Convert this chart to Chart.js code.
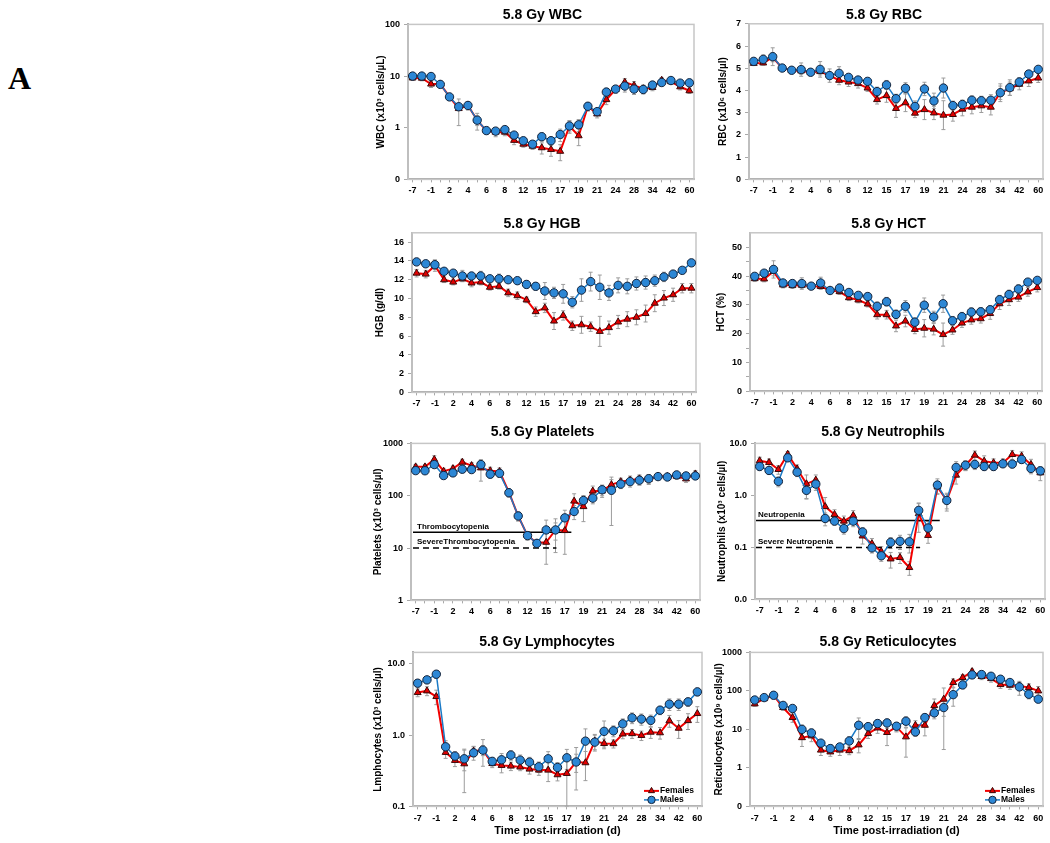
<!DOCTYPE html>
<html>
<head>
<meta charset="utf-8">
<script src="https://cdn.jsdelivr.net/npm/chart.js@4.4.0/dist/chart.umd.min.js"></script>
<style>
  body { margin: 0; background: #fff; width: 1050px; height: 843px; position: relative; overflow: hidden; }
  .panel { position: absolute; }
  #lab { position: absolute; left: 8px; top: 62px; font: bold 32px 'Liberation Serif', 'Times New Roman', serif; line-height: 32px; }
</style>
</head>
<body>
<div id="lab">A</div>
<div class="panel" id="p0"><canvas></canvas></div>
<div class="panel" id="p1"><canvas></canvas></div>
<div class="panel" id="p2"><canvas></canvas></div>
<div class="panel" id="p3"><canvas></canvas></div>
<div class="panel" id="p4"><canvas></canvas></div>
<div class="panel" id="p5"><canvas></canvas></div>
<div class="panel" id="p6"><canvas></canvas></div>
<div class="panel" id="p7"><canvas></canvas></div>
<script>
// days post-irradiation (every other one is labelled on the axis)
const days = ['-7','-4','-1','1','2','3','4','5','6','7','8','10','12','13','15','16','17','18','19','20','21','22','24','26','28','31','34','38','42','50','60'];

// WBC (x10^3 cells/uL)
const wbcMale   = [10, 10, 9.8, 6.9, 3.95, 2.55, 2.7, 1.4, 0.88, 0.86, 0.92, 0.72, 0.56, 0.48, 0.67, 0.56, 0.74, 1.08, 1.14, 2.6, 2.05, 4.9, 5.6, 6.4, 5.6, 5.5, 6.7, 7.5, 8.2, 7.3, 7.4];
const wbcFemale = [9.2, 9.1, 7.0, 7.0, 3.95, 2.35, 2.7, 1.4, 0.87, 0.82, 0.82, 0.57, 0.48, 0.44, 0.41, 0.38, 0.35, 1.08, 0.70, 2.6, 1.85, 3.5, 5.5, 7.6, 6.6, 5.7, 6.0, 8.3, 7.8, 6.2, 5.2];
const wbcMaleErr   = [1.2, 1, 1, 0.8, 0.4, 0.4, 0.3, 0.3, 0.1, 0.1, 0.1, 0.1, 0.08, 0.06, 0.12, 0.1, 0.2, 0.25, 0.3, 0.5, 0.3, 0.9, 0.8, 1.5, 1.2, 1, 0.8, 1, 0.8, 0.8, 0.6];
const wbcFemaleErr = [1, 1, 1, 0.8, 0.4, 1.25, 0.5, 0.5, 0.12, 0.15, 0.12, 0.1, 0.06, 0.06, 0.1, 0.1, 0.12, 0.3, 0.25, 0.4, 0.3, 0.7, 0.8, 1.3, 1.2, 1, 0.8, 1, 0.8, 0.8, 0.6];
const wbcTicks = [0.1, 1, 10, 100];
const wbcTickText = ['0', '1', '10', '100'];

// RBC (x10^6 cells/ul)
const rbcMale   = [5.31, 5.40, 5.52, 5.01, 4.91, 4.94, 4.82, 4.95, 4.67, 4.77, 4.59, 4.47, 4.41, 3.95, 4.25, 3.63, 4.10, 3.28, 4.07, 3.53, 4.11, 3.32, 3.37, 3.56, 3.54, 3.56, 3.90, 4.13, 4.38, 4.74, 4.95];
const rbcFemale = [5.22, 5.24, 5.49, 5.01, 4.91, 4.88, 4.82, 4.85, 4.67, 4.46, 4.38, 4.31, 4.11, 3.59, 3.77, 3.19, 3.45, 2.98, 3.14, 2.99, 2.89, 2.92, 3.16, 3.25, 3.31, 3.25, 3.90, 4.08, 4.28, 4.43, 4.56];
const rbcMaleErr   = [0.15, 0.2, 0.4, 0.1, 0.1, 0.3, 0.1, 0.35, 0.3, 0.3, 0.15, 0.15, 0.15, 0.2, 0.2, 0.2, 0.25, 0.25, 0.3, 0.35, 0.45, 0.2, 0.2, 0.2, 0.2, 0.25, 0.4, 0.35, 0.2, 0.15, 0.15];
const rbcFemaleErr = [0.1, 0.1, 0.2, 0.1, 0.1, 0.15, 0.1, 0.15, 0.15, 0.2, 0.2, 0.2, 0.15, 0.2, 0.3, 0.4, 0.4, 0.2, 0.45, 0.3, 0.65, 0.3, 0.3, 0.3, 0.3, 0.35, 0.3, 0.3, 0.25, 0.25, 0.2];
const rbcTicks = [0, 1, 2, 3, 4, 5, 6, 7];
const rbcTickText = ['0', '1', '2', '3', '4', '5', '6', '7'];

// HGB (g/dl)
const hgbMale   = [13.9, 13.7, 13.6, 12.9, 12.7, 12.4, 12.4, 12.4, 12.1, 12.1, 12.0, 11.9, 11.5, 11.3, 10.8, 10.6, 10.5, 9.6, 10.9, 11.8, 11.2, 10.6, 11.4, 11.3, 11.6, 11.7, 11.9, 12.3, 12.6, 13.0, 13.8];
const hgbFemale = [12.7, 12.6, 13.5, 12.0, 11.75, 12.1, 11.65, 11.75, 11.2, 11.3, 10.6, 10.3, 9.85, 8.6, 9.0, 7.6, 8.2, 7.1, 7.2, 7.0, 6.5, 6.9, 7.5, 7.8, 8.0, 8.4, 9.5, 10.05, 10.4, 11.1, 11.1];
const hgbMaleErr   = [0.2, 0.2, 0.5, 0.3, 0.3, 0.6, 0.3, 0.5, 0.3, 0.5, 0.3, 0.3, 0.4, 0.4, 0.9, 0.6, 1.0, 0.6, 1.2, 1.0, 1.3, 0.8, 0.8, 0.8, 0.7, 0.7, 0.6, 0.5, 0.4, 0.3, 0.3];
const hgbFemaleErr = [0.4, 0.4, 0.6, 0.3, 0.3, 0.3, 0.4, 0.3, 0.3, 0.3, 0.4, 0.4, 0.3, 0.5, 0.5, 0.9, 0.5, 0.5, 0.9, 0.5, 1.6, 0.7, 0.7, 0.8, 0.8, 0.9, 0.9, 0.8, 0.7, 0.5, 0.5];
const hgbTicks = [0, 2, 4, 6, 8, 10, 12, 14, 16];
const hgbTickText = ['0', '2', '4', '6', '8', '10', '12', '14', '16'];

// HCT (%)
const hctMale   = [39.9, 41.0, 42.3, 37.6, 37.4, 37.4, 36.5, 37.6, 35.0, 35.8, 34.3, 33.3, 32.9, 29.5, 31.1, 26.7, 29.5, 24.0, 29.9, 25.8, 30.4, 24.5, 25.9, 27.5, 27.6, 28.3, 31.8, 33.6, 35.5, 37.9, 38.5];
const hctFemale = [39.1, 39.0, 41.6, 36.9, 36.7, 36.8, 36.5, 36.4, 35.0, 34.6, 32.5, 31.7, 30.3, 26.6, 26.6, 22.7, 24.4, 21.5, 21.9, 21.6, 19.7, 21.3, 23.7, 24.8, 25.2, 27.0, 30.4, 31.8, 32.7, 34.5, 36.0];
const hctMaleErr   = [1, 1, 3, 1, 1, 2, 1, 2, 1, 1.5, 1, 1, 1, 1.5, 1.5, 1.5, 2, 1.5, 2.5, 2, 3, 1.5, 1.5, 1.5, 1.5, 1.5, 1.5, 1.5, 1.5, 1, 1];
const hctFemaleErr = [1, 1, 1.5, 1, 1, 1, 1, 1, 1, 1, 1, 1, 1, 1.5, 1.5, 2, 2, 1.5, 3, 2, 4, 1.5, 1.5, 1.5, 1.5, 2, 2, 2, 1.5, 1.5, 1.5];
const hctTicks = [0, 5, 10, 15, 20, 25, 30, 35, 40, 45, 50];
const hctTickText = ['0', '', '10', '', '20', '', '30', '', '40', '', '50'];

// Platelets (x10^3 cells/ul)
const pltMale   = [302, 300, 394, 243, 273, 321, 316, 394, 258, 268, 114, 41, 17.3, 12.3, 22.2, 22.2, 37.8, 50, 81, 90, 130, 127, 167, 186, 198, 212, 232, 228, 250, 239, 239];
const pltFemale = [356, 356, 492, 294, 330, 437, 377, 340, 300, 290, 117, 41, 17.3, 12.5, 12.9, 22.2, 21.6, 79, 62, 123, 123, 163, 186, 198, 210, 204, 235, 235, 235, 210, 261];
const pltMaleErr   = [30, 30, 50, 30, 40, 40, 40, 70, 40, 40, 20, 8, 3, 2, 12, 8, 15, 15, 20, 20, 30, 100, 30, 40, 40, 40, 30, 30, 30, 30, 30];
const pltFemaleErr = [40, 40, 90, 40, 40, 60, 50, 150, 50, 50, 20, 8, 3, 2, 8, 14, 14, 30, 30, 30, 30, 40, 30, 40, 40, 40, 30, 30, 30, 30, 40];
const pltTicks = [1, 10, 100, 1000];
const pltTickText = ['1', '10', '100', '1000'];
const pltLimits = [
  { value: 20, end: 16.7, dashed: false, label: 'Thrombocytopenia' },
  { value: 10, end: 15.1, dashed: true, label: 'SevereThrombocytopenia' }
];

// Neutrophils (x10^3 cells/ul)
const neuMale   = [3.6, 3.02, 1.86, 5.28, 2.8, 1.25, 1.65, 0.36, 0.32, 0.23, 0.32, 0.198, 0.098, 0.069, 0.125, 0.131, 0.128, 0.515, 0.236, 1.58, 0.80, 3.45, 3.8, 3.94, 3.6, 3.6, 4.05, 4.0, 4.9, 3.3, 2.97];
const neuFemale = [4.63, 4.3, 3.15, 6.2, 3.25, 1.67, 1.97, 0.61, 0.43, 0.32, 0.41, 0.166, 0.118, 0.083, 0.06, 0.064, 0.041, 0.445, 0.17, 1.45, 0.80, 2.45, 3.8, 5.95, 4.56, 4.24, 4.24, 6.12, 5.69, 3.94, 2.72];
const neuMaleErr   = [0.6, 0.5, 0.4, 0.8, 0.5, 0.4, 0.4, 0.1, 0.05, 0.05, 0.07, 0.04, 0.02, 0.015, 0.03, 0.04, 0.05, 0.2, 0.08, 0.5, 0.25, 1, 0.8, 0.8, 0.6, 0.6, 0.6, 0.6, 0.8, 0.7, 0.5];
const neuFemaleErr = [0.8, 0.7, 0.6, 0.8, 0.6, 0.8, 0.5, 0.3, 0.1, 0.08, 0.1, 0.05, 0.03, 0.02, 0.02, 0.015, 0.012, 0.25, 0.05, 0.4, 0.3, 0.8, 0.8, 1.2, 1.2, 0.8, 0.8, 1.2, 1.2, 1.0, 0.8];
const neuTicks = [0.01, 0.1, 1, 10];
const neuTickText = ['0.0', '0.1', '1.0', '10.0'];
const neuLimits = [
  { value: 0.33, end: 19.25, dashed: false, label: 'Neutropenia' },
  { value: 0.1, end: 17.15, dashed: true, label: 'Severe Neutropenia' }
];

// Lymphocytes (x10^3 cells/ul)
const lymMale   = [5.36, 5.97, 7.17, 0.686, 0.508, 0.466, 0.565, 0.616, 0.428, 0.451, 0.525, 0.446, 0.418, 0.36, 0.466, 0.352, 0.481, 0.42, 0.824, 0.798, 1.13, 1.15, 1.44, 1.75, 1.68, 1.61, 2.24, 2.72, 2.72, 2.93, 4.05];
const lymFemale = [3.96, 4.18, 3.48, 0.572, 0.442, 0.396, 0.597, 0.616, 0.40, 0.376, 0.368, 0.357, 0.334, 0.323, 0.323, 0.278, 0.29, 0.42, 0.41, 0.824, 0.764, 0.76, 1.04, 1.05, 0.99, 1.1, 1.08, 1.59, 1.25, 1.6, 2.01];
const lymMaleErr   = [0.6, 0.7, 0.9, 0.15, 0.08, 0.15, 0.12, 0.25, 0.06, 0.1, 0.08, 0.08, 0.07, 0.06, 0.12, 0.06, 0.15, 0.12, 0.4, 0.2, 0.45, 0.2, 0.25, 0.3, 0.3, 0.3, 0.3, 0.5, 0.5, 0.4, 0.5];
const lymFemaleErr = [0.5, 0.6, 0.8, 0.1, 0.08, 0.24, 0.1, 0.1, 0.05, 0.08, 0.05, 0.04, 0.05, 0.05, 0.1, 0.05, 0.2, 0.25, 0.18, 0.2, 0.12, 0.1, 0.15, 0.15, 0.15, 0.2, 0.2, 0.3, 0.35, 0.4, 0.5];
const lymTicks = [0.1, 1, 10];
const lymTickText = ['0.1', '1.0', '10.0'];

// Reticulocytes (x10^9 cells/ul)
const retMale   = [58, 67, 77, 42, 35, 10, 8.1, 4.4, 3.18, 3.5, 5.0, 12.8, 11.8, 14.2, 14.7, 12.1, 16.3, 8.6, 20.3, 26.8, 36.9, 80, 143, 260, 266, 240, 201, 165, 127, 82, 61];
const retFemale = [46, 63, 77, 37, 20.3, 6.1, 6.8, 2.9, 2.6, 2.9, 2.8, 3.96, 7.8, 10.9, 8.3, 11.6, 6.4, 12.8, 12.8, 41.6, 61, 165, 222, 318, 236, 209, 146, 140, 135, 122, 100];
const retMaleErr   = [8, 8, 10, 6, 5, 3, 2, 1, 0.8, 0.8, 1.5, 7, 3, 3, 4, 3, 5, 2, 5, 8, 15, 40, 30, 50, 40, 40, 30, 30, 50, 20, 10];
const retFemaleErr = [6, 8, 10, 6, 5, 2.5, 2, 0.8, 0.6, 0.8, 0.6, 1.5, 2, 3, 4.5, 3, 4.5, 4, 6, 20, 58, 40, 40, 50, 40, 40, 30, 30, 30, 30, 30];
const retTicks = [0.1, 1, 10, 100, 1000];
const retTickText = ['0', '1', '10', '100', '1000'];

const FONT = "'Liberation Sans', Arial, sans-serif";
Chart.defaults.font.family = FONT;
Chart.defaults.color = '#000';
const AXIS = '#a9a9a9';

// box: plot area edges, title centre, y-title centre and title shift (px)
const panels = [
  { title: '5.8 Gy WBC', yTitle: 'WBC (x10³ cells/µL)', log: true, min: 0.1, max: 100, ticks: wbcTicks, tickText: wbcTickText,
    male: wbcMale, female: wbcFemale, maleErr: wbcMaleErr, femaleErr: wbcFemaleErr,
    box: { l: 408, t: 24, r: 694, b: 179, titleY: 15, yTitleX: 381, titleDx: 8 } },
  { title: '5.8 Gy RBC', yTitle: 'RBC (x10⁶ cells/µl)', log: false, min: 0, max: 7, ticks: rbcTicks, tickText: rbcTickText,
    male: rbcMale, female: rbcFemale, maleErr: rbcMaleErr, femaleErr: rbcFemaleErr,
    box: { l: 749, t: 23, r: 1043, b: 179, titleY: 15, yTitleX: 723, titleDx: 4 } },
  { title: '5.8 Gy HGB', yTitle: 'HGB (g/dl)', log: false, min: 0, max: 17, ticks: hgbTicks, tickText: hgbTickText,
    male: hgbMale, female: hgbFemale, maleErr: hgbMaleErr, femaleErr: hgbFemaleErr,
    box: { l: 412, t: 232, r: 696, b: 392, titleY: 224, yTitleX: 380, titleDx: 7 } },
  { title: '5.8 Gy HCT', yTitle: 'HCT (%)', log: false, min: 0, max: 55, ticks: hctTicks, tickText: hctTickText,
    male: hctMale, female: hctFemale, maleErr: hctMaleErr, femaleErr: hctFemaleErr,
    box: { l: 750, t: 232, r: 1042, b: 391, titleY: 224, yTitleX: 721, titleDx: 10 } },
  { title: '5.8 Gy Platelets', yTitle: 'Platelets (x10³ cells/µl)', log: true, min: 1, max: 1000, ticks: pltTicks, tickText: pltTickText,
    male: pltMale, female: pltFemale, maleErr: pltMaleErr, femaleErr: pltFemaleErr, limits: pltLimits, limitDx: [2, 6],
    box: { l: 411, t: 443, r: 700, b: 600, titleY: 432, yTitleX: 378, titleDx: 6.5 } },
  { title: '5.8 Gy Neutrophils', yTitle: 'Neutrophils (x10³ cells/µl)', log: true, min: 0.01, max: 10, ticks: neuTicks, tickText: neuTickText,
    male: neuMale, female: neuFemale, maleErr: neuMaleErr, femaleErr: neuFemaleErr, limits: neuLimits, limitDx: [1, 3],
    box: { l: 755, t: 443, r: 1045, b: 599, titleY: 432, yTitleX: 722, titleDx: 2.5 } },
  { title: '5.8 Gy Lymphocytes', yTitle: 'Lmphocytes (x10³ cells/µl)', log: true, min: 0.1, max: 14.5, ticks: lymTicks, tickText: lymTickText,
    male: lymMale, female: lymFemale, maleErr: lymMaleErr, femaleErr: lymFemaleErr, bottomRow: true,
    box: { l: 413, t: 652, r: 702, b: 806, titleY: 642, yTitleX: 378, titleDx: 10 } },
  { title: '5.8 Gy Reticulocytes', yTitle: 'Reticulocytes (x10⁹ cells/µl)', log: true, min: 0.1, max: 1000, ticks: retTicks, tickText: retTickText,
    male: retMale, female: retFemale, maleErr: retMaleErr, femaleErr: retFemaleErr, bottomRow: true,
    box: { l: 750, t: 652, r: 1043, b: 806, titleY: 642, yTitleX: 719, titleDx: 10 } }
];

// grey frame round the plot area
const frame = {
  id: 'frame',
  beforeDatasetsDraw(chart) {
    const { ctx, chartArea: a } = chart;
    ctx.save();
    ctx.strokeStyle = '#c6c6c6';
    ctx.lineWidth = 1.5;
    ctx.strokeRect(a.left, a.top, a.right - a.left, a.bottom - a.top);
    ctx.restore();
  }
};

// +/- error bars drawn through the y scale
const errBars = {
  id: 'errBars',
  beforeDatasetsDraw(chart) {
    const { ctx, chartArea: a } = chart;
    const ys = chart.scales.y;
    ctx.save();
    ctx.beginPath();
    ctx.rect(a.left, a.top, a.right - a.left, a.bottom - a.top);
    ctx.clip();
    ctx.strokeStyle = '#9c9c9c';
    ctx.lineWidth = 1;
    chart.data.datasets.forEach((ds, di) => {
      if (!ds.errors) return;
      chart.getDatasetMeta(di).data.forEach((pt, i) => {
        const v = ds.data[i], e = ds.errors[i];
        if (v == null || e == null) return;
        let lo = v - e;
        if (ys.type === 'logarithmic' && lo <= ys.min) lo = ys.min;
        const y1 = ys.getPixelForValue(v + e), y2 = ys.getPixelForValue(lo);
        ctx.beginPath();
        ctx.moveTo(pt.x, y1); ctx.lineTo(pt.x, y2);
        ctx.moveTo(pt.x - 2, y1); ctx.lineTo(pt.x + 2, y1);
        ctx.moveTo(pt.x - 2, y2); ctx.lineTo(pt.x + 2, y2);
        ctx.stroke();
      });
    });
    ctx.restore();
  }
};

// threshold lines (thrombocytopenia / neutropenia)
const limits = {
  id: 'limits',
  beforeDatasetsDraw(chart, args, opts) {
    if (!opts.lines) return;
    const { ctx, chartArea: a, scales: { x: xs, y: ys } } = chart;
    ctx.save();
    opts.lines.forEach(l => {
      const y = ys.getPixelForValue(l.value);
      ctx.strokeStyle = '#000';
      ctx.lineWidth = 1.5;
      ctx.setLineDash(l.dashed ? [6, 4] : []);
      ctx.beginPath();
      ctx.moveTo(a.left + opts.dx[0], y);
      ctx.lineTo(xs.getPixelForValue(l.end), y);
      ctx.stroke();
      ctx.setLineDash([]);
      ctx.fillStyle = '#000';
      ctx.font = 'bold 8px ' + FONT;
      ctx.textBaseline = 'bottom';
      ctx.fillText(l.label, a.left + opts.dx[1], y - 2);
    });
    ctx.restore();
  }
};

// Females / Males key inside the lower right corner
const key = {
  id: 'key',
  afterDraw(chart, args, opts) {
    if (!opts.show) return;
    const { ctx, chartArea: a } = chart;
    const tx = a.right - 42;
    ctx.save();
    ctx.font = 'bold 8.5px ' + FONT;
    ctx.textBaseline = 'middle';
    ['Females', 'Males'].forEach((name, k) => {
      const ds = chart.data.datasets.find(d => d.label === name);
      const y = a.bottom - 15.5 + k * 9;
      ctx.strokeStyle = ds.borderColor;
      ctx.lineWidth = ds.borderWidth;
      ctx.beginPath(); ctx.moveTo(tx - 16, y); ctx.lineTo(tx - 1, y); ctx.stroke();
      ctx.fillStyle = ds.pointBackgroundColor;
      ctx.strokeStyle = ds.pointBorderColor;
      ctx.lineWidth = 1;
      Chart.helpers.drawPoint(ctx, { pointStyle: ds.pointStyle, radius: ds.pointRadius - 0.5, rotation: 0, borderWidth: 1 }, tx - 8.5, y);
      ctx.fillStyle = '#000';
      ctx.fillText(name, tx, y);
    });
    ctx.restore();
  }
};

panels.forEach((p, n) => {
  const b = p.box;
  const left = b.yTitleX - 6;
  const top = b.titleY - 8.4;
  const xH = p.bottomRow ? 31 : 18;
  const spare = 2 * b.titleDx;   // empty right-hand box pushes the centred title over
  const el = document.getElementById('p' + n);
  el.style.left = left + 'px';
  el.style.top = top + 'px';
  el.style.width = (b.r + 5 + spare - left) + 'px';
  el.style.height = (b.b - top + xH) + 'px';
  const yW = b.l - left;
  const tpb = Math.max(0, b.t - top - 16.8);

  new Chart(el.querySelector('canvas'), {
    type: 'line',
    data: {
      labels: days,
      datasets: [
        { label: 'Males', data: p.male, errors: p.maleErr, borderColor: '#1b7ac6', borderWidth: 1.5,
          pointStyle: 'circle', pointRadius: 4.2, pointBackgroundColor: '#2c87d5', pointBorderColor: '#14233a', pointBorderWidth: 1, tension: 0 },
        { label: 'Females', data: p.female, errors: p.femaleErr, borderColor: '#f20000', borderWidth: 2,
          pointStyle: 'triangle', pointRadius: 4, pointBackgroundColor: '#e00000', pointBorderColor: '#3a0808', pointBorderWidth: 1, tension: 0 }
      ]
    },
    options: {
      responsive: true,
      maintainAspectRatio: false,
      animation: false,
      layout: { padding: { left: 0, right: 5, top: 0, bottom: 0 } },
      plugins: {
        legend: { display: false },
        tooltip: { enabled: false },
        title: { display: true, text: p.title, font: { size: 14, weight: 'bold' }, padding: { top: 0, bottom: tpb }, color: '#000' },
        limits: { lines: p.limits, dx: p.limitDx },
        key: { show: !!p.bottomRow }
      },
      scales: {
        x: {
          type: 'category',
          offset: true,
          afterFit: s => { s.height = xH; },
          ticks: {
            autoSkip: false, maxRotation: 0, minRotation: 0, padding: p.bottomRow ? 4 : 3,
            font: { size: 9, weight: 'bold' }, color: '#000',
            callback(v, i) { return i % 2 ? '' : this.getLabelForValue(v); }
          },
          grid: { drawOnChartArea: false, tickLength: 3, color: AXIS },
          border: { color: AXIS, width: 2 },
          title: { display: !!p.bottomRow, text: 'Time post-irradiation (d)', font: { size: 11, weight: 'bold' }, padding: 0, color: '#000' }
        },
        y: {
          type: p.log ? 'logarithmic' : 'linear',
          min: p.min,
          max: p.max,
          afterFit: s => { s.width = yW; },
          afterBuildTicks: s => { s.ticks = p.ticks.map(v => ({ value: v })); },
          ticks: {
            padding: 4, font: { size: 9, weight: 'bold' }, color: '#000',
            callback: v => { const i = p.ticks.indexOf(v); return i >= 0 ? p.tickText[i] : ''; }
          },
          grid: { drawOnChartArea: false, tickLength: 4, color: AXIS },
          border: { color: AXIS, width: 2 },
          title: { display: true, text: p.yTitle, font: { size: 10, weight: 'bold' }, padding: 0, color: '#000' }
        },
        spare: {
          type: 'linear',
          position: 'right',
          display: true,
          afterFit: s => { s.width = spare; },
          ticks: { display: false },
          grid: { display: false },
          border: { display: false }
        }
      }
    },
    plugins: [frame, errBars, limits, key]
  });
});
</script>
</body>
</html>
